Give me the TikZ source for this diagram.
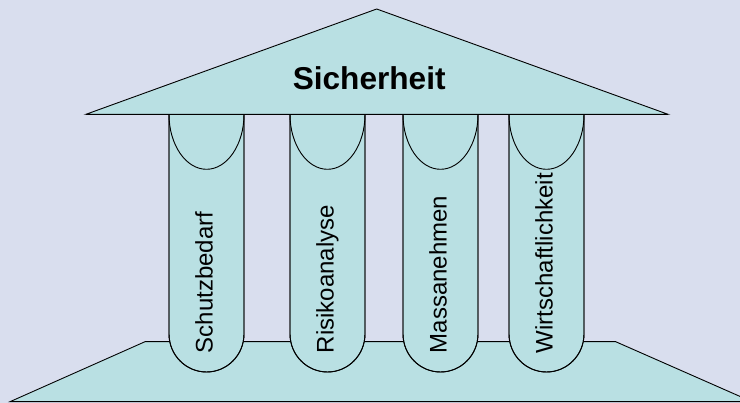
\documentclass[tikz,border=0pt]{standalone}
\usepackage{fontspec}
\setmainfont{Liberation Sans}
\definecolor{bgcol}{HTML}{D9DEEE}
\definecolor{stonecol}{HTML}{B9E0E3}
\begin{document}
\begin{tikzpicture}[x=1pt,y=-1pt,
  stone/.style={fill=stonecol,draw=black,line width=0.9pt,line join=miter},
  pillartext/.style={rotate=90,anchor=base west,inner sep=0pt,font=\fontsize{24}{28}\selectfont},
  rooftext/.style={anchor=base,inner sep=0pt,font=\bfseries\fontsize{31.6}{36}\selectfont}]
\fill[bgcol] (0,0) rectangle (740,403);
\useasboundingbox (0,0) rectangle (740,403);
% base
\begin{scope}
\clip (0,0) rectangle (740,403);
\coordinate (bl) at (10,401.7);
\coordinate (tl) at (145,341.7);
\coordinate (tr) at (615.7,341.7);
\coordinate (br) at (752,401.7);
\draw[stone] (bl) -- (tl) -- (tr) -- (br) -- cycle;
\end{scope}
% roof
\coordinate (rl) at (86,114.3);
\coordinate (ra) at (376.7,9);
\coordinate (rr) at (668,114.3);
\draw[stone] (rl) -- (ra) -- (rr) -- cycle;
\node[rooftext] (roof) at (369.2,89.3) {Sicherheit};
% pillars
\foreach \xl/\name/\txt in {169/p1/Schutzbedarf,290/p2/Risikoanalyse,403/p3/Massanehmen,509/p4/Wirtschaftlichkeit}{
  \pgfmathsetmacro{\xr}{\xl+75}
  \pgfmathsetmacro{\xc}{\xl+37.5}
  \pgfmathsetmacro{\xt}{\xl+43.7}
  \path[stone] (\xl,114.3) -- (\xl,334) arc[start angle=180,end angle=360,x radius=37.5pt,y radius=38pt] -- (\xr,114.3);
  \draw[line width=0.9pt] (\xl,114.3) -- (\xl,334) arc[start angle=180,end angle=360,x radius=37.5pt,y radius=38pt] -- (\xr,114.3);
  \draw[line width=0.9pt] (\xl,114.3) arc[start angle=180,end angle=360,x radius=37.5pt,y radius=55pt];
  \node[pillartext] (\name) at (\xt,353.3) {\txt};
}
\draw[line width=0.9pt] (rl) -- (rr);
\end{tikzpicture}
\end{document}
